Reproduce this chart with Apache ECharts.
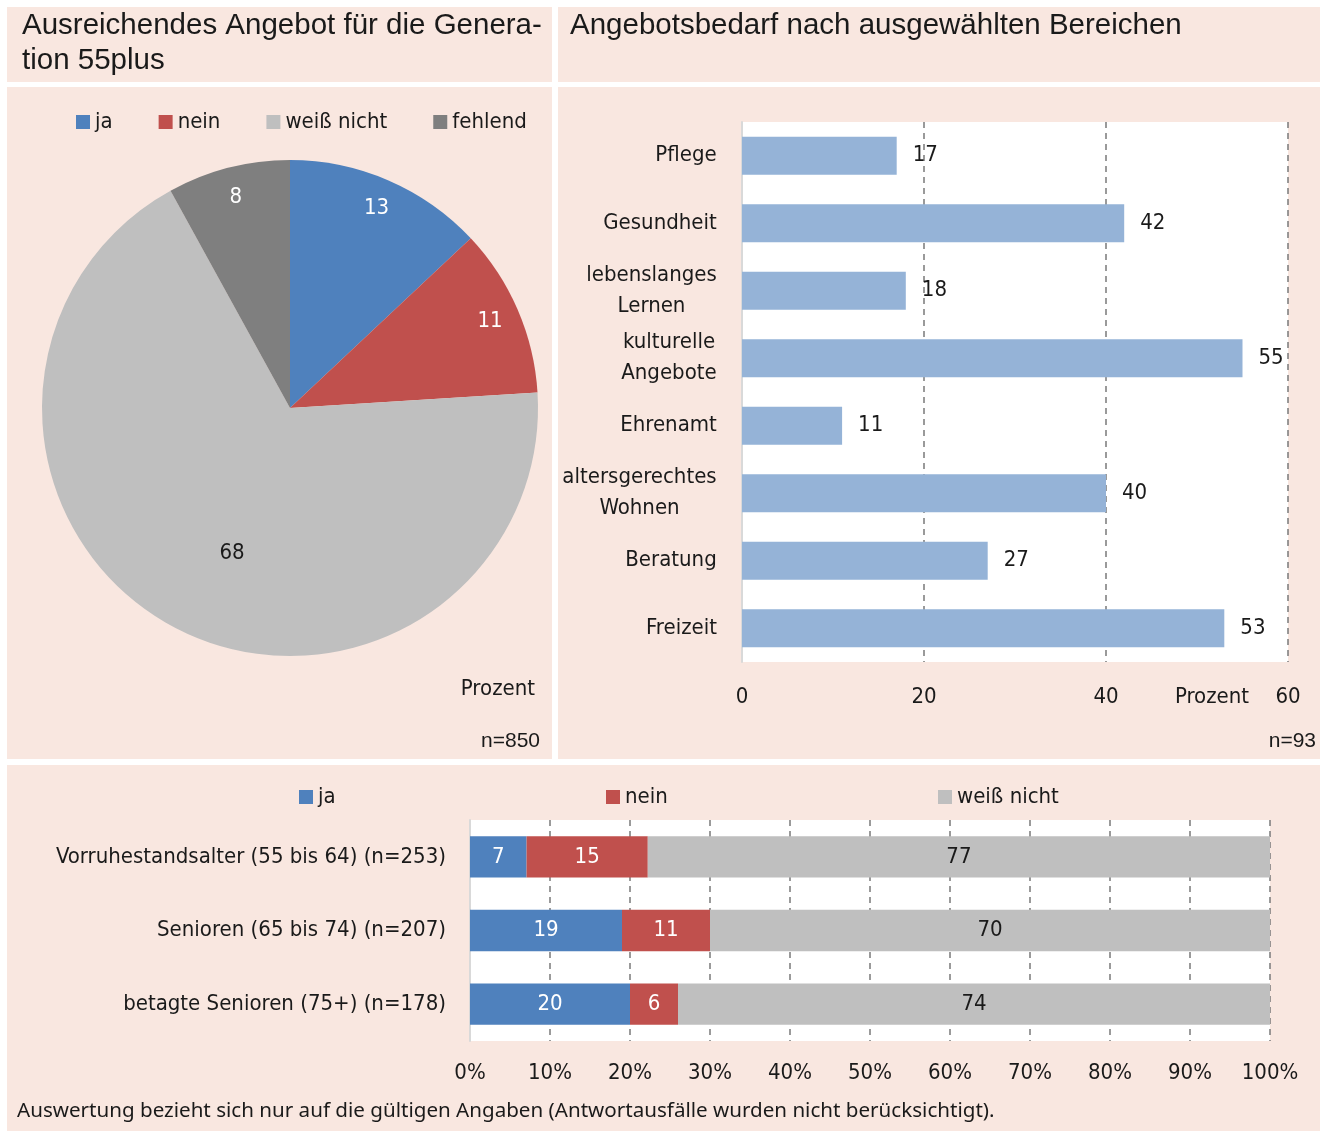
<!DOCTYPE html>
<html>
<head>
<meta charset="utf-8">
<script src="https://cdn.jsdelivr.net/npm/echarts@6/dist/echarts.min.js"></script>
<style>
  html, body { margin: 0; padding: 0; background: #ffffff; }
  #chart { width: 1320px; height: 1131px; }
</style>
</head>
<body>
<div id="chart"></div>
<script>
// pie: Ausreichendes Angebot
const pieNames = ['ja', 'nein', 'weiß nicht', 'fehlend']
const pieValues = [13, 11, 68, 8]

// bar: Angebotsbedarf
const needCategories = ['Pflege', 'Gesundheit', 'lebenslanges\nLernen', 'kulturelle\nAngebote', 'Ehrenamt', 'altersgerechtes\nWohnen', 'Beratung', 'Freizeit']
const needValues = [17, 42, 18, 55, 11, 40, 27, 53]
const needTicks = [0, 20, 40, 60]

// stacked bar: nach Altersgruppen
const ageGroups = ['Vorruhestandsalter (55 bis 64) (n=253)', 'Senioren (65 bis 74) (n=207)', 'betagte Senioren (75+) (n=178)']
const ageJa = [7, 19, 20]
const ageNein = [15, 11, 6]
const ageWeiss = [77, 70, 74]

const NARROW = '"DejaVu Sans Condensed", "Liberation Sans Narrow", sans-serif'
const WIDE = '"Liberation Sans", Arial, sans-serif'
const FS = 22
const TXT = '#1a1a1a'
const PANEL = '#f9e7e0'
const BLUE = '#4f81bd'
const RED = '#c0504d'
const LGRAY = '#bfbfbf'
const DGRAY = '#7f7f7f'
const PIE_CX = 290
const PIE_CY = 408

const chart = echarts.init(document.getElementById('chart'))

// measure lines so two-line axis labels are centred line by line
const ctx = document.createElement('canvas').getContext('2d')
ctx.font = FS + 'px ' + NARROW
const needRich = {}
needCategories.forEach((c, i) => {
  const w = Math.max(...c.split('\n').map(l => ctx.measureText(l).width))
  needRich['c' + i] = { width: Math.ceil(w), align: 'center', fontSize: FS, lineHeight: 31, fontFamily: NARROW, color: TXT }
})

// 100% stacking: rows do not always add to 100
const ageSums = ageJa.map((v, i) => v + ageNein[i] + ageWeiss[i])
const norm = arr => arr.map((v, i) => v / ageSums[i] * 100)

const dashed = { show: true, lineStyle: { color: '#7a7a7a', width: 1.5, type: [6, 5] } }
const legendText = { fontSize: FS, fontFamily: NARROW, color: TXT }

const panel = (x, y, w, h) => ({ type: 'rect', z: -10, silent: true, shape: { x, y, width: w, height: h }, style: { fill: PANEL } })
const text = (x, y, t, font, align, va) => ({
  type: 'text', z: 10, silent: true, x, y,
  style: { text: t, font, fill: TXT, textAlign: align, textVerticalAlign: va, lineHeight: 35 }
})

const option = {
  animation: false,
  backgroundColor: '#ffffff',
  textStyle: { fontFamily: NARROW, color: TXT },
  graphic: [
    panel(7, 7, 545, 75),
    panel(558, 7, 762, 75),
    panel(7, 87, 545, 672),
    panel(558, 87, 762, 672),
    panel(7, 765, 1313, 366),
    text(22, 8, 'Ausreichendes Angebot für die Genera-\ntion 55plus', '29.5px ' + WIDE, 'left', 'top'),
    text(570, 8, 'Angebotsbedarf nach ausgewählten Bereichen', '29.5px ' + WIDE, 'left', 'top'),
    text(535, 689, 'Prozent', FS + 'px ' + NARROW, 'right', 'middle'),
    text(540, 741, 'n=850', '21px ' + WIDE, 'right', 'middle'),
    text(1212, 697, 'Prozent', FS + 'px ' + NARROW, 'center', 'middle'),
    text(1316, 741, 'n=93', '21px ' + WIDE, 'right', 'middle'),
    text(17, 1111, 'Auswertung bezieht sich nur auf die gültigen Angaben (Antwortausfälle wurden nicht berücksichtigt).', '20.6px "Noto Sans", ' + WIDE, 'left', 'middle')
  ],
  legend: [
    { data: pieNames, left: 71, top: 106, itemGap: 46, itemWidth: 14, itemHeight: 14, icon: 'rect', textStyle: legendText },
    { data: ['ja'], left: 294, top: 781, itemWidth: 14, itemHeight: 14, icon: 'rect', textStyle: legendText },
    { data: ['nein'], left: 601, top: 781, itemWidth: 14, itemHeight: 14, icon: 'rect', textStyle: legendText },
    { data: ['weiß nicht'], left: 933, top: 781, itemWidth: 14, itemHeight: 14, icon: 'rect', textStyle: legendText }
  ],
  grid: [
    { left: 742, top: 122, width: 546, height: 540, show: true, backgroundColor: '#ffffff', borderWidth: 0, containLabel: false, outerBoundsMode: 'none' },
    { left: 470, top: 820, width: 800, height: 221, show: true, backgroundColor: '#ffffff', borderWidth: 0, containLabel: false, outerBoundsMode: 'none' }
  ],
  xAxis: [
    {
      gridIndex: 0, type: 'value', min: needTicks[0], max: needTicks[needTicks.length - 1], interval: 20,
      axisLine: { show: false }, axisTick: { show: false },
      axisLabel: { fontSize: FS, color: TXT, margin: 24 },
      splitLine: dashed
    },
    {
      gridIndex: 1, type: 'value', min: 0, max: 100, interval: 10,
      axisLine: { show: false }, axisTick: { show: false },
      axisLabel: { fontSize: FS, color: TXT, margin: 21, formatter: '{value}%' },
      splitLine: dashed
    }
  ],
  yAxis: [
    {
      gridIndex: 0, type: 'category', inverse: true, data: needCategories,
      axisLine: { show: true, lineStyle: { color: '#d9d9d9', width: 2 } }, axisTick: { show: false },
      axisLabel: {
        margin: 25, align: 'right', rich: needRich,
        formatter: (v, i) => v.split('\n').map(l => '{c' + i + '|' + l + '}').join('\n')
      }
    },
    {
      gridIndex: 1, type: 'category', inverse: true, data: ageGroups,
      axisLine: { show: true, lineStyle: { color: '#d9d9d9', width: 2 } }, axisTick: { show: false },
      axisLabel: { margin: 24, fontSize: FS, color: TXT }
    }
  ],
  series: [
    {
      type: 'pie', center: [PIE_CX, PIE_CY], radius: 248, startAngle: 90, clockwise: true,
      silent: true,
      itemStyle: { borderWidth: 0 },
      data: pieNames.map((n, i) => ({
        name: n, value: pieValues[i],
        itemStyle: { color: [BLUE, RED, LGRAY, DGRAY][i] },
        label: { color: i === 2 ? TXT : '#ffffff' }
      })),
      label: { show: true, position: 'inside', fontSize: FS, fontFamily: NARROW, formatter: '{c}' },
      labelLine: { show: false },
      labelLayout: (p) => {
        const r = p.labelRect
        let dx = r.x + r.width / 2 - PIE_CX
        let dy = r.y + r.height / 2 - PIE_CY
        const d = Math.sqrt(dx * dx + dy * dy) || 1
        dx /= d
        dy /= d
        let target = 218
        if (pieValues[p.dataIndex] > 50) {
          // the big slice's label sits a bit closer to the centre and lower
          target = 156
          const a = -7 * Math.PI / 180
          const rx = dx * Math.cos(a) - dy * Math.sin(a)
          const ry = dx * Math.sin(a) + dy * Math.cos(a)
          dx = rx
          dy = ry
        }
        return { x: PIE_CX + dx * target, y: PIE_CY + dy * target, align: 'center', verticalAlign: 'middle' }
      }
    },
    {
      name: 'Bedarf', type: 'bar', xAxisIndex: 0, yAxisIndex: 0, data: needValues,
      barCategoryGap: '44%', silent: true,
      itemStyle: { color: '#95b3d7' },
      label: { show: true, position: 'right', distance: 16, fontSize: FS, color: TXT }
    },
    {
      name: 'ja', type: 'bar', stack: 'age', xAxisIndex: 1, yAxisIndex: 1, data: norm(ageJa),
      barCategoryGap: '44%', silent: true, itemStyle: { color: BLUE },
      label: { show: true, position: 'inside', fontSize: FS, color: '#ffffff', formatter: p => ageJa[p.dataIndex] }
    },
    {
      name: 'nein', type: 'bar', stack: 'age', xAxisIndex: 1, yAxisIndex: 1, data: norm(ageNein),
      barCategoryGap: '44%', silent: true, itemStyle: { color: RED },
      label: { show: true, position: 'inside', fontSize: FS, color: '#ffffff', formatter: p => ageNein[p.dataIndex] }
    },
    {
      name: 'weiß nicht', type: 'bar', stack: 'age', xAxisIndex: 1, yAxisIndex: 1, data: norm(ageWeiss),
      barCategoryGap: '44%', silent: true, itemStyle: { color: LGRAY },
      label: { show: true, position: 'inside', fontSize: FS, color: TXT, formatter: p => ageWeiss[p.dataIndex] }
    }
  ]
}

chart.setOption(option)
</script>
</body>
</html>
